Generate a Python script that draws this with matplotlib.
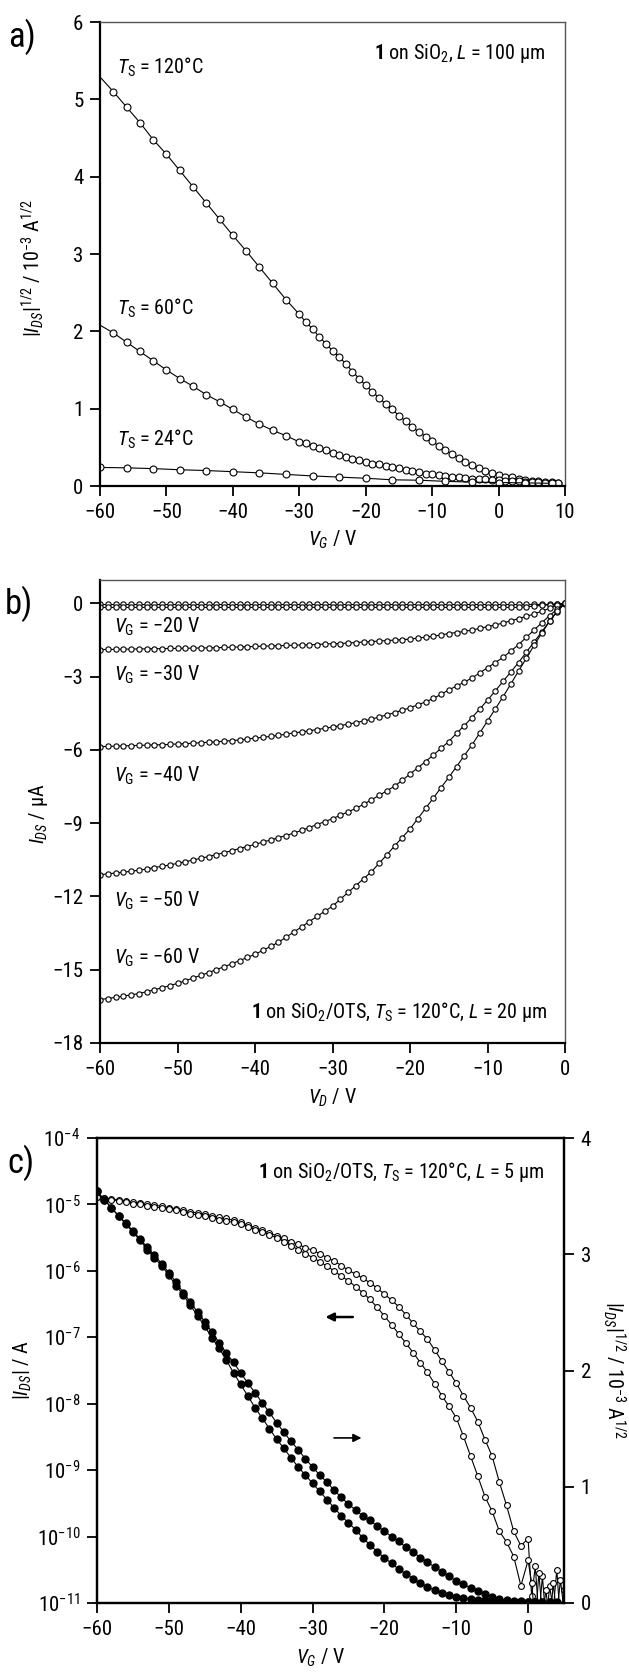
import matplotlib
matplotlib.use("Agg")
import numpy as np
import matplotlib.pyplot as plt
from matplotlib import font_manager

# narrow sans if one is installed, else Liberation Sans
names = {f.name for f in font_manager.fontManager.ttflist}
FONT = "Liberation Sans"
for cand in ("Liberation Sans Narrow", "Roboto Condensed", "Open Sans Condensed",
             "Noto Sans Condensed", "DejaVu Sans Condensed"):
    if cand in names:
        FONT = cand
        break
plt.rcParams["font.family"] = [FONT, "DejaVu Sans"]
plt.rcParams["mathtext.fontset"] = "custom"
plt.rcParams["mathtext.rm"] = FONT
plt.rcParams["mathtext.it"] = FONT + ":italic"
plt.rcParams["mathtext.bf"] = FONT + ":bold"

# ---------------- panel a: transfer curves, |I_DS|^1/2 vs V_G ----------------
VG_A = [-60] + list(range(-58, -29, 2)) + list(range(-29, 10))
SQ_120 = [5.29, 5.10, 4.90, 4.70, 4.48, 4.29, 4.08, 3.87, 3.66, 3.45, 3.24, 3.04, 2.83, 2.62, 2.41, 2.22,
          2.12, 2.03, 1.93, 1.84, 1.75, 1.67, 1.58, 1.48, 1.39, 1.30,
          1.22, 1.14, 1.06, 0.99, 0.91, 0.84, 0.76, 0.70, 0.64, 0.58,
          0.52, 0.46, 0.41, 0.36, 0.31, 0.27, 0.23, 0.20, 0.17, 0.14,
          0.12, 0.11, 0.09, 0.08, 0.07, 0.06, 0.055, 0.05, 0.045]
SQ_60 = [2.08, 1.98, 1.86, 1.74, 1.62, 1.50, 1.39, 1.29, 1.18, 1.09, 0.99, 0.89, 0.80, 0.72, 0.65, 0.57,
         0.55, 0.52, 0.49, 0.46, 0.43, 0.40, 0.38, 0.35, 0.33, 0.31,
         0.29, 0.28, 0.26, 0.24, 0.23, 0.21, 0.19, 0.18, 0.16, 0.15,
         0.14, 0.13, 0.12, 0.11, 0.10, 0.095, 0.09, 0.085, 0.08, 0.075,
         0.07, 0.065, 0.06, 0.055, 0.05, 0.05, 0.045, 0.04, 0.04]
VG_A24 = list(range(-60, 9, 4))
SQ_24 = [0.24, 0.235, 0.225, 0.21, 0.20, 0.185, 0.17, 0.15, 0.13, 0.115, 0.10, 0.08, 0.075, 0.06,
         0.05, 0.045, 0.04, 0.035]

# ---------------- panel b: output curves, I_DS vs V_D ----------------
VD_B = list(range(-60, 1))
ID_0 = [-0.02] * 61
ID_10 = [-0.17] * 55 + [-0.15, -0.12, -0.09, -0.06, -0.03, 0.0]
ID_20 = [-1.90, -1.89, -1.89, -1.88, -1.88, -1.87, -1.87, -1.86, -1.86, -1.85,
         -1.85, -1.84, -1.84, -1.83, -1.83, -1.82, -1.81, -1.80, -1.79, -1.78,
         -1.77, -1.76, -1.75, -1.74, -1.73, -1.72, -1.71, -1.70, -1.69, -1.67,
         -1.66, -1.65, -1.63, -1.61, -1.59, -1.57, -1.55, -1.53, -1.51, -1.49,
         -1.47, -1.43, -1.39, -1.35, -1.30, -1.24, -1.20, -1.15, -1.10, -1.03,
         -0.96, -0.89, -0.81, -0.72, -0.63, -0.54, -0.44, -0.33, -0.21, -0.09, 0.0]
ID_30 = [-5.87, -5.86, -5.85, -5.84, -5.83, -5.82, -5.81, -5.80, -5.79, -5.78,
         -5.76, -5.75, -5.73, -5.71, -5.69, -5.67, -5.65, -5.62, -5.60, -5.56,
         -5.52, -5.49, -5.45, -5.41, -5.36, -5.31, -5.27, -5.22, -5.17, -5.12,
         -5.07, -5.01, -4.95, -4.89, -4.82, -4.75, -4.66, -4.57, -4.48, -4.38,
         -4.28, -4.16, -4.04, -3.90, -3.73, -3.55, -3.39, -3.23, -3.06, -2.85,
         -2.64, -2.43, -2.22, -1.96, -1.70, -1.40, -1.10, -0.80, -0.51, -0.24, 0.0]
ID_40 = [-11.11, -11.08, -11.04, -11.01, -10.97, -10.93, -10.88, -10.82, -10.77, -10.71,
         -10.65, -10.58, -10.51, -10.44, -10.37, -10.29, -10.21, -10.13, -10.04, -9.96,
         -9.87, -9.78, -9.69, -9.60, -9.51, -9.41, -9.30, -9.18, -9.06, -8.94,
         -8.82, -8.68, -8.54, -8.40, -8.23, -8.05, -7.87, -7.68, -7.49, -7.25,
         -6.99, -6.74, -6.48, -6.22, -5.94, -5.66, -5.33, -5.01, -4.68, -4.33,
         -3.97, -3.59, -3.20, -2.82, -2.43, -2.01, -1.59, -1.17, -0.74, -0.34, 0.0]
ID_60 = [-16.22, -16.18, -16.13, -16.08, -16.03, -15.98, -15.90, -15.82, -15.74, -15.65,
         -15.56, -15.45, -15.34, -15.23, -15.12, -15.00, -14.88, -14.76, -14.63, -14.50,
         -14.37, -14.21, -14.05, -13.88, -13.67, -13.46, -13.25, -13.03, -12.82, -12.61,
         -12.40, -12.12, -11.84, -11.56, -11.28, -11.00, -10.65, -10.30, -9.94, -9.59,
         -9.24, -8.82, -8.40, -7.98, -7.55, -7.13, -6.69, -6.24, -5.80, -5.31,
         -4.82, -4.33, -3.83, -3.31, -2.78, -2.26, -1.73, -1.23, -0.74, -0.32, 0.0]

# ---------------- panel c: transfer curves, log |I_DS| and |I_DS|^1/2 ----------------
VG_C = list(range(-60, 1))
LOG_FWD = [-4.89, -4.90, -4.92, -4.93, -4.95, -4.97, -4.98, -5.00, -5.01, -5.03,
           -5.05, -5.07, -5.09, -5.11, -5.13, -5.15, -5.17, -5.19, -5.21, -5.24,
           -5.27, -5.31, -5.35, -5.39, -5.43, -5.47, -5.51, -5.56, -5.60, -5.65,
           -5.69, -5.74, -5.80, -5.85, -5.92, -5.99, -6.05, -6.11, -6.18, -6.26,
           -6.35, -6.44, -6.54, -6.66, -6.79, -6.91, -7.03, -7.19, -7.36, -7.52,
           -7.69, -7.88, -8.06, -8.27, -8.54, -8.79, -9.18, -9.53, -9.92, -10.14, -10.03]
LOG_REV = [-4.89, -4.91, -4.93, -4.95, -4.97, -4.99, -5.00, -5.02, -5.04, -5.05,
           -5.07, -5.09, -5.11, -5.14, -5.16, -5.18, -5.20, -5.23, -5.25, -5.27,
           -5.30, -5.34, -5.38, -5.42, -5.46, -5.50, -5.56, -5.62, -5.68, -5.74,
           -5.80, -5.86, -5.93, -6.00, -6.08, -6.15, -6.24, -6.33, -6.43, -6.55,
           -6.68, -6.81, -6.95, -7.09, -7.23, -7.38, -7.53, -7.70, -7.88, -8.04,
           -8.21, -8.49, -8.79, -9.09, -9.40, -9.62, -9.92, -10.08, -10.30, -10.74, -10.36]
VG_NOISE = [0.5, 1.0, 1.5, 2.0, 2.5, 3.0, 3.5, 4.0, 4.5, 5.0]
LOG_FWD_NOISE = [-10.9, -10.45, -11.2, -10.6, -11.3, -10.75, -11.1, -10.5, -11.3, -10.8]
LOG_REV_NOISE = [-10.7, -11.3, -10.55, -11.2, -10.8, -11.4, -10.7, -11.2, -10.65, -11.1]

VG_CS = list(range(-60, 5))
SQ_FWD = [3.54, 3.47, 3.40, 3.33, 3.27, 3.20, 3.13, 3.06, 2.99, 2.92,
          2.84, 2.76, 2.67, 2.59, 2.50, 2.42, 2.33, 2.24, 2.15, 2.07,
          1.98, 1.89, 1.81, 1.72, 1.64, 1.55, 1.47, 1.39, 1.32, 1.24,
          1.17, 1.10, 1.04, 0.97, 0.91, 0.85, 0.80, 0.75, 0.71, 0.66,
          0.62, 0.57, 0.53, 0.48, 0.44, 0.39, 0.35, 0.31, 0.27, 0.23,
          0.19, 0.16, 0.13, 0.10, 0.075, 0.05, 0.035, 0.025, 0.018, 0.013,
          0.01, 0.008, 0.007, 0.006, 0.005]
SQ_REV = [3.54, 3.47, 3.40, 3.33, 3.26, 3.19, 3.12, 3.04, 2.97, 2.90,
          2.82, 2.73, 2.65, 2.56, 2.47, 2.38, 2.28, 2.19, 2.09, 1.98,
          1.88, 1.78, 1.68, 1.59, 1.50, 1.41, 1.33, 1.25, 1.17, 1.10,
          1.03, 0.96, 0.89, 0.82, 0.75, 0.69, 0.63, 0.56, 0.50, 0.44,
          0.39, 0.34, 0.29, 0.25, 0.21, 0.17, 0.14, 0.11, 0.09, 0.07,
          0.055, 0.045, 0.035, 0.028, 0.022, 0.018, 0.015, 0.012, 0.01, 0.008,
          0.007, 0.006, 0.005, 0.005, 0.004]

TICK_FS = 15
TEXT_FS = 14.5
LINE = dict(color="black", lw=0.8)
OPEN = dict(marker="o", mfc="white", mec="black", mew=0.8)

fig = plt.figure(figsize=(6.29, 16.72), dpi=100)
W, H = 629.0, 1672.0


def box(l, t, r, b):
    return [l / W, 1 - b / H, (r - l) / W, (b - t) / H]


def style(ax, light=True):
    for s in ("left", "bottom"):
        ax.spines[s].set_linewidth(1.6)
        ax.spines[s].set_color("black")
    for s in ("top", "right"):
        ax.spines[s].set_linewidth(1.0 if light else 1.6)
        ax.spines[s].set_color("#555555" if light else "black")
    ax.tick_params(direction="out", length=7, width=1.3, labelsize=TICK_FS, pad=5,
                   top=False, right=False)


# ---- a ----
ax = fig.add_axes(box(100, 22, 565, 486))
ax.plot(VG_A, SQ_120, ms=5, markevery=list(range(1, len(VG_A))), **LINE, **OPEN)
ax.plot(VG_A, SQ_60, ms=5, markevery=list(range(1, len(VG_A))), **LINE, **OPEN)
ax.plot(VG_A24, SQ_24, ms=5, **LINE, **OPEN)
ax.set_xlim(-60, 10)
ax.set_ylim(0, 6)
ax.set_xticks(range(-60, 11, 10))
ax.set_yticks(range(0, 7))
style(ax)
ax.text(-57.5, 5.42, r"$T_\mathrm{S}$ = 120°C", fontsize=TEXT_FS, va="center")
ax.text(-57.5, 2.30, r"$T_\mathrm{S}$ = 60°C", fontsize=TEXT_FS, va="center")
ax.text(-57.5, 0.60, r"$T_\mathrm{S}$ = 24°C", fontsize=TEXT_FS, va="center")
ax.text(7.0, 5.59, r"$\mathbf{1}$ on SiO$_2$, $L$ = 100 µm", fontsize=TEXT_FS, va="center", ha="right")
fig.text(333 / W, 1 - 540 / H, r"$V_G$ / V", fontsize=TEXT_FS, ha="center", va="center")
fig.text(33 / W, 1 - 268 / H, r"$|I_{DS}|^{1/2}$ / 10$^{-3}$ A$^{1/2}$", fontsize=TEXT_FS,
         rotation=90, ha="center", va="center")
fig.text(22 / W, 1 - 37 / H, "a)", fontsize=25, ha="center", va="center")

# ---- b ----
ax = fig.add_axes(box(100, 580, 565, 1043))
for curve in (ID_0, ID_10, ID_20, ID_30, ID_40, ID_60):
    ax.plot(VD_B, curve, ms=3.8, **LINE, **OPEN)
ax.set_xlim(-60, 0)
ax.set_ylim(-18, 0.95)
ax.set_xticks(range(-60, 1, 10))
ax.set_yticks(range(-18, 1, 3))
style(ax)
for yv, lab in ((-0.96, "−20"), (-2.92, "−30"), (-7.07, "−40"), (-12.19, "−50"), (-14.51, "−60")):
    ax.text(-58.2, yv, r"$V_\mathrm{G}$ = " + lab + " V", fontsize=TEXT_FS, va="center")
ax.text(-2.3, -16.73, r"$\mathbf{1}$ on SiO$_2$/OTS, $T_\mathrm{S}$ = 120°C, $L$ = 20 µm",
        fontsize=TEXT_FS, va="center", ha="right")
fig.text(332 / W, 1 - 1098 / H, r"$V_D$ / V", fontsize=TEXT_FS, ha="center", va="center")
fig.text(38 / W, 1 - 814 / H, r"$I_{DS}$ / µA", fontsize=TEXT_FS, rotation=90, ha="center", va="center")
fig.text(19 / W, 1 - 604 / H, "b)", fontsize=25, ha="center", va="center")

# ---- c ----
ax = fig.add_axes(box(97, 1138, 564, 1603))
ax2 = ax.twinx()
for main, noise in ((LOG_FWD, LOG_FWD_NOISE), (LOG_REV, LOG_REV_NOISE)):
    ax.plot(VG_C + VG_NOISE, 10 ** np.array(main + noise), ms=4.2, **LINE, **OPEN)
for curve in (SQ_FWD, SQ_REV):
    ax2.plot(VG_CS, curve, marker="o", ms=5, mfc="black", mec="black", **LINE)
ax.set_yscale("log")
ax.set_xlim(-60, 5)
ax.set_ylim(1e-11, 1e-4)
ax.set_xticks(range(-60, 1, 10))
ax.set_yticks([10.0 ** k for k in range(-11, -3)])
ax.minorticks_off()
ax2.set_ylim(0, 4)
ax2.set_yticks(range(0, 5))
style(ax, light=False)
for s in ax2.spines.values():
    s.set_linewidth(1.6)
    s.set_color("black")
ax2.tick_params(direction="out", length=7, width=1.3, labelsize=TICK_FS, pad=5)
ax2.annotate("", xy=(-28.6, 2.46), xytext=(-24.0, 2.46),
             arrowprops=dict(arrowstyle="-|>", lw=1.8, color="black", mutation_scale=12))
ax2.annotate("", xy=(-22.8, 1.42), xytext=(-27.4, 1.42),
             arrowprops=dict(arrowstyle="-|>", lw=1.2, color="black", mutation_scale=12))
ax2.text(2.2, 3.71, r"$\mathbf{1}$ on SiO$_2$/OTS, $T_\mathrm{S}$ = 120°C, $L$ = 5 µm",
         fontsize=TEXT_FS, va="center", ha="right")
fig.text(321 / W, 1 - 1658 / H, r"$V_G$ / V", fontsize=TEXT_FS, ha="center", va="center")
fig.text(23 / W, 1 - 1370 / H, r"$|I_{DS}|$ / A", fontsize=TEXT_FS, rotation=90, ha="center", va="center")
fig.text(614 / W, 1 - 1370 / H, r"$|I_{DS}|^{1/2}$ / 10$^{-3}$ A$^{1/2}$", fontsize=TEXT_FS,
         rotation=270, ha="center", va="center")
fig.text(21 / W, 1 - 1163 / H, "c)", fontsize=25, ha="center", va="center")

fig.savefig("out.png", dpi=100)
